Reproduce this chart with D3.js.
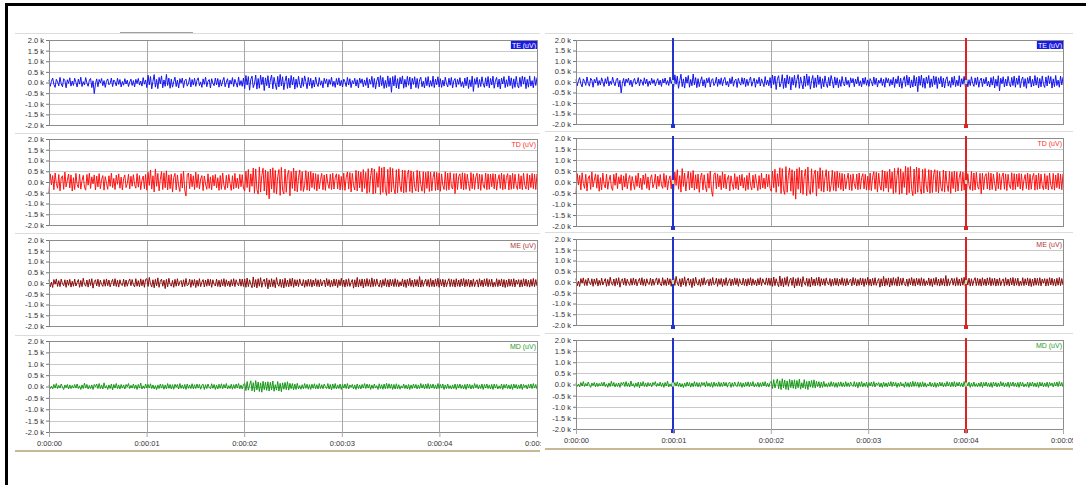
<!DOCTYPE html>
<html>
<head>
<meta charset="utf-8">
<script src="https://cdn.jsdelivr.net/npm/d3@7"></script>
<style>
  body { margin: 0; background: #fff; }
  svg { display: block; }
  text { font-family: "Liberation Sans", Arial, sans-serif; }
</style>
</head>
<body>
<svg id="chart" width="1086" height="485"></svg>
<script>
// channels, units in uV, 5 s of signal
const channels = ["TE", "TD", "ME", "MD"]
const channelUnit = "(uV)"
const yTicks = [2000, 1500, 1000, 500, 0, -500, -1000, -1500, -2000]
const xTicks = [0, 1, 2, 3, 4, 5]
const xTickLabels = ["0:00:00", "0:00:01", "0:00:02", "0:00:03", "0:00:04", "0:00:05"]
const duration = 5
const cursorTimes = [1, 4]

// samples (same recording shown in both panels), 80 per second
const teSignal = [120,-180,60,210,-90,-230,150,30,-160,240,-60,-200,180,90,-250,130,-40,220,-170,70,
  -140,200,10,-210,160,-80,250,-190,40,-120,230,-30,-180,110,190,-240,80,-520,-60,170,
  -200,140,-20,190,-150,90,-230,60,170,-110,-40,210,-190,120,30,-160,200,-90,140,-210,
  50,-130,180,-70,110,-190,20,160,-140,90,-210,150,-50,190,-120,70,-170,230,-80,120,
  -240,340,-110,280,-300,60,370,-220,150,-290,240,-60,310,-250,120,-180,380,-140,210,-270,
  160,-220,40,250,-190,110,-260,180,-30,210,-240,90,160,-170,-60,230,-210,140,-120,200,
  -180,100,220,-150,30,-230,170,-90,250,-200,60,140,-260,180,-40,-150,210,-110,190,-220,
  130,-170,70,240,-200,20,180,-250,110,-80,230,-190,150,-30,-220,260,-140,90,-180,210,
  -290,330,-120,280,-360,150,300,-240,-60,350,-310,190,-270,340,-100,260,-380,220,-150,320,
  -260,120,350,-300,240,-70,-330,290,-210,380,-160,270,-340,60,310,-280,200,-250,330,-120,
  250,-310,160,-230,290,-90,-260,220,-180,310,40,-290,240,-150,200,-270,110,-210,260,-60,
  -190,230,-130,80,-250,200,-40,170,-220,140,-90,250,-180,60,-230,190,-110,220,-160,100,
  -210,160,30,-190,240,-120,180,-240,90,-60,200,-170,130,-250,210,-30,170,-200,120,-140,
  230,-260,150,-80,290,-230,190,-300,70,260,-210,320,-150,240,-280,100,-240,310,-190,220,
  -460,280,-160,330,-250,180,-300,240,-70,310,-270,150,-220,290,-130,260,-310,200,-90,270,
  -240,190,-280,120,250,-200,60,-260,230,-150,280,-220,90,-180,300,-240,160,-110,270,-210,
  180,-230,110,-170,250,-60,-210,200,-130,240,-250,80,190,-220,150,-90,230,-190,40,-240,
  210,-150,260,-280,130,-200,300,-420,180,-90,250,-240,140,-190,270,-60,-230,220,-170,280,
  -250,190,-120,300,-270,80,240,-220,160,-300,210,-70,280,-240,130,-190,310,-150,220,-280,
  170,-230,290,-110,-260,240,-190,300,-80,260,-290,150,-220,310,-170,90,-250,280,-140,230]

const tdSignal = [-520,380,-140,300,-360,420,-60,-290,350,-410,180,290,-340,460,-230,90,370,-280,330,-420,
  200,-350,400,-120,-270,360,-330,60,310,-240,-380,350,-150,410,-300,240,-90,330,-370,280,
  -230,390,-310,120,300,-380,250,-60,-340,290,-200,410,-260,170,-350,320,-110,380,-290,230,
  -370,150,330,-260,-80,360,-320,270,-200,340,-130,-290,390,-240,300,-360,80,280,-310,350,
  -380,450,-160,560,-330,290,-460,610,-200,400,-410,120,480,-350,430,-270,520,-370,330,-310,
  360,-470,210,400,-360,330,-180,-440,390,-280,500,-380,-650,340,420,-310,370,-220,290,-350,
  460,-260,360,-320,140,300,-400,280,-90,-340,380,-300,240,-360,310,-180,350,-280,200,-390,
  300,-340,420,-150,-360,310,-280,350,-60,-390,290,-330,400,-270,180,-310,360,-220,340,-290,
  -420,500,-260,580,-470,380,-200,650,-520,610,-350,-560,700,-470,300,640,-420,560,-610,480,
  -780,600,-330,660,-500,540,-560,250,580,-620,680,-400,-560,600,-480,350,540,-640,480,-300,
  650,-420,520,-460,200,560,-400,480,-440,-150,530,-380,460,-420,490,-260,420,-340,390,-410,
  350,-320,120,400,-360,330,-390,370,-80,-300,360,-350,410,-330,200,380,-310,350,-370,260,
  -360,410,-390,220,470,-330,440,-460,400,-170,-370,540,-420,500,-280,460,-460,580,-300,450,
  -530,620,-480,300,650,-560,600,-520,440,-250,720,-580,660,-490,700,-340,-620,590,-540,680,
  -470,630,-300,-550,570,-500,610,-180,-450,560,-510,540,-480,350,560,-440,520,-500,470,-260,
  -420,540,-460,500,-130,-430,480,-520,450,-300,490,-440,460,-410,220,470,-400,450,-370,420,
  -430,380,-150,-350,480,-390,410,-360,440,-200,-330,390,-540,400,-350,260,380,-320,430,-370,
  400,-340,360,-80,-400,440,-310,380,-350,250,410,-330,370,-390,350,-140,-300,420,-360,380,
  -340,360,-220,390,-320,370,-380,100,340,-300,410,-360,350,-330,220,390,-370,320,-340,400,
  -310,360,-180,-350,380,-320,290,-360,410,-150,-330,390,-370,320,-260,400,-310,360,-350,380]

const meSignal = [150,-180,40,-210,160,-60,190,-160,110,-170,180,-30,-130,150,-200,140,-110,170,-190,80,
  -150,180,-140,20,160,-200,120,-170,220,-50,-150,140,-190,170,-120,200,-240,60,150,-140,
  180,-170,130,-60,-160,160,-150,190,-130,140,-180,30,170,-140,200,-160,130,-190,150,-70,
  -120,180,-170,140,-150,60,190,-130,160,-90,-180,200,-150,110,-170,190,-130,150,-200,170,
  200,-160,260,-40,-180,150,-220,170,-140,240,-200,80,180,-150,130,-260,170,-180,220,-60,
  -150,120,-200,170,-150,200,-130,60,120,-180,150,-160,210,-130,-80,180,-200,150,-120,170,
  -210,130,-150,200,-170,40,160,-180,140,-150,190,-130,170,-200,150,-60,-140,180,-160,130,
  -190,160,-140,200,-170,150,-130,90,-180,160,-140,200,-170,150,-30,-130,190,-150,180,-160,
  180,-200,230,-170,150,-60,-220,280,-180,160,-230,200,-150,250,-200,80,180,-160,220,-270,
  150,-180,200,-170,150,-220,250,-50,-150,180,-200,160,-230,220,-160,140,-180,200,-150,230,
  -200,160,-140,150,-170,190,-40,-140,160,-200,130,-160,180,-150,170,-190,140,-130,200,-160,
  150,-180,170,-140,60,140,-180,210,-130,160,-190,120,-160,190,-140,170,-210,150,-130,220,
  -160,140,-190,170,-150,200,-160,30,160,-240,150,-180,260,-190,160,-150,190,-230,170,-160,
  210,-150,160,-190,240,-170,170,-150,190,-80,-180,140,-200,160,-130,210,-170,150,-190,180,
  -140,160,-170,200,-160,150,-180,60,-140,190,-170,150,-210,170,-130,220,-160,140,-190,170,
  -150,160,-180,300,-190,150,-160,40,180,-150,160,-190,210,-160,140,-180,190,-150,220,-200,
  160,-140,180,-190,150,-170,70,200,-170,170,-160,150,-190,200,-150,140,-180,190,-140,210,
  -180,160,-150,180,-190,140,-160,190,-170,50,150,-190,200,-150,140,-180,190,-140,210,-180,
  160,-150,180,-190,40,-160,200,-170,150,-140,190,-180,160,-210,140,-170,190,-150,170,-160,
  200,-180,140,-60,160,-190,150,-170,200,-140,180,-160,130,-190,170,-150,210,-170,160,-140]

const mdSignal = [70,-90,20,-110,90,-70,130,-90,50,-70,110,-30,-130,70,-50,90,-110,70,-90,50,
  -70,90,-70,110,-90,30,-130,70,-90,150,-70,90,-110,50,-90,70,-130,90,-20,110,
  -90,130,-90,70,-110,160,-70,40,-130,70,-90,110,-150,90,-70,130,-90,70,-110,90,
  -70,70,-110,90,-20,130,-90,50,-70,110,-90,70,-130,90,-70,150,-110,30,-90,110,
  -70,90,-70,120,-90,70,-110,40,-140,70,-90,110,-70,90,-120,70,-100,130,-80,90,
  -110,80,-120,100,-30,90,-110,130,-80,70,-100,90,-130,110,-80,70,-90,120,-100,80,
  -90,110,-70,90,-120,60,100,-130,80,-90,110,-40,-100,120,-80,90,-130,70,-110,100,
  -80,120,-100,90,-70,130,-110,40,-90,100,-120,80,-90,110,-70,130,-100,60,-110,90,
  140,-180,220,-160,60,250,-190,170,-230,260,-150,200,-220,160,-250,230,-140,190,-170,210,
  -200,180,-150,240,-210,80,-160,220,-200,140,-230,160,-120,180,-140,210,-160,140,-100,130,
  -150,110,-130,140,-100,40,-120,80,-100,130,-80,100,-120,80,-130,100,-80,120,-100,80,
  -110,130,-90,80,-100,110,-20,-90,130,-110,90,-150,110,-90,130,-110,70,-90,110,-130,
  90,-70,110,-90,130,-110,70,-30,90,-110,70,-130,110,-90,70,-110,90,-70,130,-90,
  110,-70,90,-130,70,-90,110,-70,40,-130,120,-90,80,-120,110,-100,140,-90,120,-80,
  100,-130,90,-110,120,-100,80,-120,30,-70,110,-90,70,-110,90,-130,70,-90,110,-70,
  90,-110,70,-90,130,-70,90,-110,110,-90,130,-110,90,-70,110,-90,70,-110,130,-90,
  90,-70,110,-130,70,-90,110,-90,40,-110,70,-90,110,-130,90,-70,110,-90,70,-110,
  90,-130,110,-70,90,-110,70,-90,130,-60,90,-110,70,-90,110,-130,90,-70,110,-90,
  70,-110,90,-130,110,-70,90,-110,30,-90,110,-130,90,-70,110,-90,70,-110,90,-130,
  110,-70,90,-110,70,-90,110,-130,90,-40,70,-110,90,-70,110,-90,130,-70,90,-110]

const signals = [teSignal, tdSignal, meSignal, mdSignal]

// styling
const traceColors = ["#1414f0", "#ff1212", "#8a0c0c", "#179a17"]
const labelColors = ["#ffffff", "#ff3030", "#b03434", "#2a9a2a"]
const cursorColors = ["#2233cc", "#dd2222"]

const panels = [
  { x0: 49, x1: 537, clipX: 8, clipW: 533, rows: [[40, 125], [139, 225], [240, 326], [341, 432]],
    seps: [33, 133, 233, 335], sepX: [15, 540], baseY: 451, cursors: false },
  { x0: 576, x1: 1063, clipX: 543, clipW: 530, rows: [[40, 124], [138, 226], [239, 325], [340, 429]],
    seps: [33, 131, 232, 333], sepX: [545, 1075], baseY: 449, cursors: true }
]

const svg = d3.select("#chart")
const fmt = d => (d / 1000).toFixed(1) + " k"

panels.forEach((p, pi) => {
  svg.append("clipPath").attr("id", "clip" + pi)
    .append("rect").attr("x", p.clipX).attr("y", 0).attr("width", p.clipW).attr("height", 485)

  const g = svg.append("g").attr("clip-path", `url(#clip${pi})`)
  const x = d3.scaleLinear().domain([0, duration]).range([p.x0, p.x1])

  // panel separators
  p.seps.forEach(sy => {
    g.append("line").attr("x1", p.sepX[0]).attr("x2", p.sepX[1]).attr("y1", sy + 0.5).attr("y2", sy + 0.5)
      .attr("stroke", "#dcdcdc")
  })
  if (pi === 0) {
    g.append("line").attr("x1", 120).attr("x2", 193).attr("y1", 32.5).attr("y2", 32.5).attr("stroke", "#a0a0a0")
  }
  g.append("line").attr("x1", p.sepX[0]).attr("x2", p.sepX[1]).attr("y1", p.baseY).attr("y2", p.baseY)
    .attr("stroke", "#c9b896").attr("stroke-width", 2)

  channels.forEach((ch, ci) => {
    const [top, bottom] = p.rows[ci]
    const y = d3.scaleLinear().domain([-2000, 2000]).range([bottom, top])
    const row = g.append("g")

    row.selectAll(".hgrid").data(yTicks).join("line")
      .attr("x1", p.x0).attr("x2", p.x1)
      .attr("y1", d => Math.round(y(d)) + 0.5).attr("y2", d => Math.round(y(d)) + 0.5)
      .attr("stroke", "#c8c8c8")

    row.selectAll(".vgrid").data(xTicks.slice(1, -1)).join("line")
      .attr("x1", d => Math.round(x(d)) + 0.5).attr("x2", d => Math.round(x(d)) + 0.5)
      .attr("y1", top).attr("y2", bottom)
      .attr("stroke", "#a8a8a8")

    const yAxis = row.append("g").attr("transform", `translate(${p.x0},0)`)
      .call(d3.axisLeft(y).tickValues(yTicks).tickSize(3).tickPadding(2).tickFormat(fmt))
    yAxis.select(".domain").remove()
    yAxis.selectAll("line").attr("stroke", "#777")
    yAxis.selectAll("text").attr("font-size", 7.5).attr("fill", "#333").attr("font-family", null)

    const data = signals[ci]
    const line = d3.line()
      .x((d, i) => x(i * duration / (data.length - 1)))
      .y(d => y(d))
    row.append("path").datum(data)
      .attr("d", line)
      .attr("fill", "none")
      .attr("stroke", traceColors[ci])
      .attr("stroke-width", 1)

    row.append("rect")
      .attr("x", p.x0 + 0.5).attr("y", top + 0.5)
      .attr("width", p.x1 - p.x0).attr("height", bottom - top)
      .attr("fill", "none").attr("stroke", "#8c8c8c")

    const label = row.append("text")
      .attr("x", p.x1 - 1).attr("y", top + 7.5)
      .attr("text-anchor", "end")
      .attr("font-size", 7)
      .attr("fill", labelColors[ci])
      .text(`${ch} ${channelUnit}`)
    if (ci === 0) {
      const w = label.node().getComputedTextLength()
      row.append("rect")
        .attr("x", p.x1 - w - 2).attr("y", top + 1)
        .attr("width", w + 2).attr("height", 8)
        .attr("fill", "#1a1ae6")
      label.raise()
    }

    if (p.cursors) {
      cursorTimes.forEach((t, k) => {
        const cx = Math.round(x(t))
        row.append("line").attr("x1", cx).attr("x2", cx).attr("y1", top - 2).attr("y2", bottom + 2)
          .attr("stroke", cursorColors[k]).attr("stroke-width", 2)
        row.append("rect").attr("x", cx - 2).attr("y", bottom).attr("width", 4).attr("height", 4)
          .attr("fill", cursorColors[k])
        row.append("rect").attr("x", cx - 1).attr("y", y(0) - 2).attr("width", 2).attr("height", 4)
          .attr("fill", "#bfe0bf")
      })
    }

    if (ci === channels.length - 1) {
      const xAxis = row.append("g").attr("transform", `translate(0,${bottom})`)
        .call(d3.axisBottom(x).tickValues(xTicks).tickSize(5).tickPadding(4)
          .tickFormat((d, i) => xTickLabels[i]))
      xAxis.select(".domain").remove()
      xAxis.selectAll("line").attr("stroke", "#a8a8a8")
      xAxis.selectAll("text").attr("font-size", 7.5).attr("fill", "#333").attr("font-family", null)
    }
  })
})

// outer frame
svg.append("rect").attr("x", 6.5).attr("y", 4.5).attr("width", 1100).attr("height", 500)
  .attr("fill", "none").attr("stroke", "#000").attr("stroke-width", 3)
</script>
</body>
</html>
